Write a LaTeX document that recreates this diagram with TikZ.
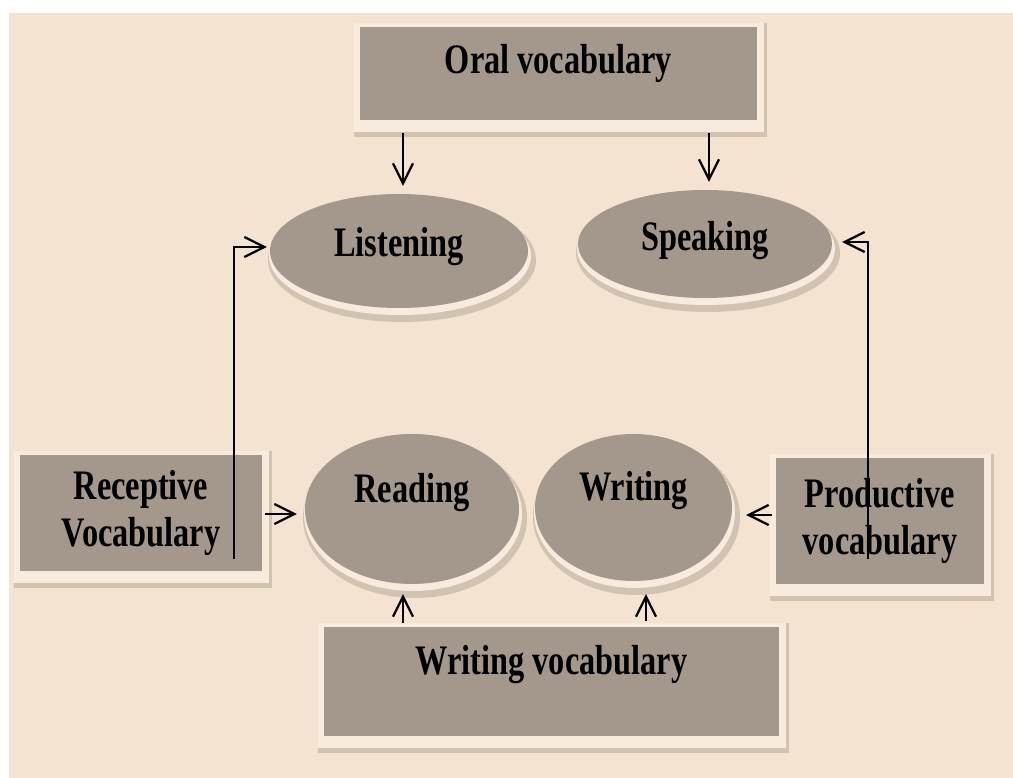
\documentclass[tikz,border=0pt]{standalone}
\usepackage{fontspec}
\newfontfamily\boxfont{Liberation Serif}[FakeStretch=0.77]
\usetikzlibrary{arrows.meta,shapes.geometric,backgrounds}
\definecolor{paper}{RGB}{244,227,208}
\definecolor{boxgrey}{RGB}{164,152,140}
\definecolor{rimlight}{RGB}{248,235,221}
\definecolor{rimdark}{RGB}{210,194,178}
\tikzset{
  vbox/.style={rectangle,fill=boxgrey,inner sep=0pt,align=center,
    font=\fontsize{42}{47}\boxfont\bfseries},
  vskill/.style={ellipse,fill=boxgrey,inner sep=0pt,
    font=\fontsize{42}{47}\boxfont\bfseries},
  lift/.style={text height=30pt,text depth=#1},
  link/.style={-{Straight Barb[length=20pt,width=20pt]},line width=2.2pt}
}

\begin{document}
\begin{tikzpicture}[x=1pt,y=-1pt]
        \useasboundingbox (0,0) rectangle (1013,778);
        % Vocabulary boxes
        \node[vbox,lift=29pt,minimum width=397pt,minimum height=93pt]
          (oral) at (558.5,73.5) {Oral vocabulary};
        \node[vbox,minimum width=242pt,minimum height=116pt]
          (recep) at (141,513) {Receptive\\Vocabulary};
        \node[vbox,minimum width=208pt,minimum height=126pt]
          (prod) at (880,521) {Productive\\vocabulary};
        \node[vbox,lift=45pt,minimum width=455pt,minimum height=109pt]
          (wvoc) at (551.5,681.5) {Writing vocabulary};
        % Skills
        \node[vskill,lift=18pt,minimum width=258pt,minimum height=114pt]
          (listen) at (399,251) {Listening};
        \node[vskill,lift=16pt,minimum width=254pt,minimum height=108pt]
          (speak) at (705,244) {Speaking};
        \node[vskill,lift=44pt,minimum width=214pt,minimum height=150pt]
          (read) at (412,509) {Reading};
        \node[vskill,lift=45pt,minimum width=197pt,minimum height=147pt]
          (write) at (633.5,507.5) {Writing};
        % Paper and rims
        \begin{scope}[on background layer]
          \fill[white] (0,0) rectangle (1013,778);
          \fill[paper] (9,13) rectangle (1013,778);
          \foreach \n in {oral,recep,prod,wvoc}{
            \fill[rimdark] ([shift={(-6pt,4pt)}]\n.north west)
              rectangle ([shift={(10pt,-17pt)}]\n.south east);
            \fill[rimlight] ([shift={(-6pt,4pt)}]\n.north west)
              rectangle ([shift={(7pt,-12pt)}]\n.south east);
          }
          \foreach \n/\rx/\ry in {listen/129/57,speak/127/54,read/107/75,write/98.5/73.5}{
            \fill[rimdark] ([shift={(3pt,-9pt)}]\n.center)
              ellipse [x radius=\rx+5,y radius=\ry+5];
            \fill[rimlight] ([shift={(1pt,-5pt)}]\n.center)
              ellipse [x radius=\rx+2,y radius=\ry+2];
          }
        \end{scope}
        % Arrows
        \draw[link] ([xshift=-155.5pt,yshift=-13pt]oral.south)
          -- ([xshift=4pt,yshift=8pt]listen.north);
        \draw[link] ([xshift=150.5pt,yshift=-13pt]oral.south)
          -- ([xshift=4pt,yshift=8pt]speak.north);
        \draw[link] ([xshift=93pt,yshift=-46pt]recep.center)
          |- ([xshift=-3pt,yshift=4pt]listen.west);
        \draw[link] ([xshift=-12pt,yshift=-38pt]prod.center)
          |- ([xshift=10pt,yshift=2pt]speak.east);
        \draw[link] ([xshift=3pt,yshift=-1pt]recep.east)
          -- ([xshift=-8pt,yshift=-5pt]read.west);
        \draw[link] ([xshift=-4pt,yshift=6pt]prod.west)
          -- ([xshift=14pt,yshift=-7.5pt]write.east);
        \draw[link] ([xshift=-148.5pt,yshift=4pt]wvoc.north)
          -- ([xshift=-9pt,yshift=-10pt]read.south);
        \draw[link] ([xshift=94.5pt,yshift=6pt]wvoc.north)
          -- ([xshift=12.5pt,yshift=-13pt]write.south);
      \end{tikzpicture}
\end{document}
